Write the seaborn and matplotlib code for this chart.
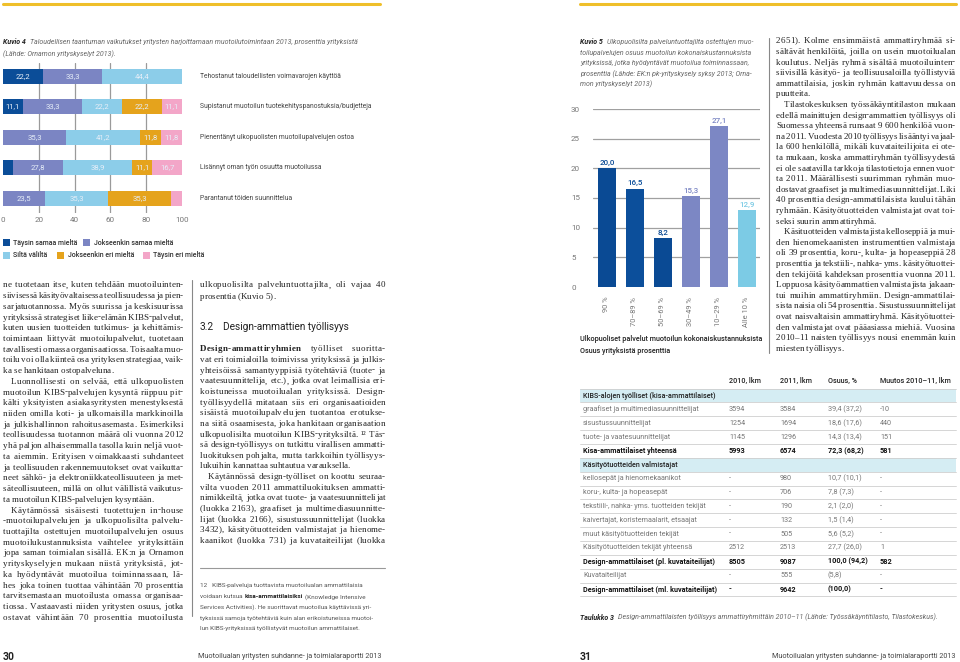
import matplotlib
matplotlib.use("Agg")
import matplotlib.pyplot as plt
from matplotlib.patches import Rectangle
from matplotlib.lines import Line2D
import seaborn as sns
import pandas as pd
import numpy as np

# ---------------- DATA ----------------
k4_categories = [
    "Tehostanut taloudellisten voimavarojen käyttöä",
    "Supistanut muotoilun tuotekehityspanostuksia/budjetteja",
    "Pienentänyt ulkopuolisten muotoilupalvelujen ostoa",
    "Lisännyt oman työn osuutta muotoilussa",
    "Parantanut töiden suunnittelua",
]
k4_series = ["Täysin samaa mieltä", "Jokseenkin samaa mieltä", "Siltä väliltä",
             "Jokseenkin eri mieltä", "Täysin eri mieltä"]
k4_taysin_samaa = [22.2, 11.1, 0.0, 5.6, 0.0]
k4_jokseenkin_samaa = [33.3, 33.3, 35.3, 27.8, 23.5]
k4_silta_valilta = [44.4, 22.2, 41.2, 38.9, 35.3]
k4_jokseenkin_eri = [0.0, 22.2, 11.8, 11.1, 35.3]
k4_taysin_eri = [0.0, 11.1, 11.8, 16.7, 5.9]
k4_xticks = [0, 20, 40, 60, 80, 100]

k5_categories = ["90 %", "70–89 %", "50–69 %", "30–49 %", "10–29 %", "Alle 10 %"]
k5_values = [20.0, 16.5, 8.2, 15.3, 27.1, 12.9]
k5_yticks = [0, 5, 10, 15, 20, 25, 30]

t3_header = ["2010, lkm", "2011, lkm", "Osuus, %", "Muutos 2010–11, lkm"]
t3_labels = [
    "KIBS-alojen työlliset (kisa-ammattilaiset)",
    "graafiset ja multimediasuunnittelijat",
    "sisustussuunnittelijat",
    "tuote- ja vaatesuunnittelijat",
    "Kisa-ammattilaiset yhteensä",
    "Käsityötuotteiden valmistajat",
    "kellosepät ja hienomekaanikot",
    "koru-, kulta- ja hopeasepät",
    "tekstiili-, nahka- yms. tuotteiden tekijät",
    "kaivertajat, koristemaalarit, etsaajat",
    "muut käsityötuotteiden tekijät",
    "Käsityötuotteiden tekijät yhteensä",
    "Design-ammattilaiset (pl. kuvataiteilijat)",
    "Kuvataiteilijat",
    "Design-ammattilaiset (ml. kuvataiteilijat)",
]
t3_2010 = ["", "3594", "1254", "1145", "5993", "", "-", "-", "-", "-", "-", "2512", "8505", "-", "-"]
t3_2011 = ["", "3584", "1694", "1296", "6574", "", "980", "706", "190", "132", "505", "2513", "9087", "555", "9642"]
t3_osuus = ["", "39,4 (37,2)", "18,6 (17,6)", "14,3 (13,4)", "72,3 (68,2)", "", "10,7 (10,1)", "7,8 (7,3)",
            "2,1 (2,0)", "1,5 (1,4)", "5,6 (5,2)", "27,7 (26,0)", "100,0 (94,2)", "(5,8)", "(100,0)"]
t3_muutos = ["", "-10", "440", "151", "581", "", "-", "-", "-", "-", "-", "1", "582", "-", "-"]
t3_kind = ["section", "normal", "normal", "normal", "bold", "section", "normal", "normal", "normal",
           "normal", "normal", "normal", "bold", "normal", "bold"]

# body text; a leading "> " marks an indented line, a trailing "|" marks a paragraph end (not justified)
left_col1 = [
    "ne tuotetaan itse, kuten tehdään muotoiluinten-",
    "siivisessä käsityövaltaisessa teollisuudessa ja pien-",
    "sarjatuotannossa. Myös suurissa ja keskisuurissa",
    "yrityksissä strategiset liike-elämän KIBS-palvelut,",
    "kuten uusien tuotteiden tutkimus- ja kehittämis-",
    "toimintaan liittyvät muotoilupalvelut, tuotetaan",
    "tavallisesti omassa organisaatiossa. Toisaalta muo-",
    "toilu voi olla kiinteä osa yrityksen strategiaa, vaik-",
    "ka se hankitaan ostopalveluna.|",
    "> Luonnollisesti on selvää, että ulkopuolisten",
    "muotoilun KIBS-palvelujen kysyntä riippuu pit-",
    "kälti yksityisten asiakasyritysten menestyksestä",
    "niiden omilla koti- ja ulkomaisilla markkinoilla",
    "ja julkishallinnon rahoitusasemasta. Esimerkiksi",
    "teollisuudessa tuotannon määrä oli vuonna 2012",
    "yhä paljon alhaisemmalla tasolla kuin neljä vuot-",
    "ta aiemmin. Erityisen voimakkaasti suhdanteet",
    "ja teollisuuden rakennemuutokset ovat vaikutta-",
    "neet sähkö- ja elektroniikkateollisuuteen ja met-",
    "säteollisuuteen, millä on ollut välillistä vaikutus-",
    "ta muotoilun KIBS-palvelujen kysyntään.|",
    "> Käytännössä sisäisesti tuotettujen in-house",
    "-muotoilupalvelujen ja ulkopuolisilta palvelu-",
    "tuottajilta ostettujen muotoilupalvelujen osuus",
    "muotoilukustannuksista vaihtelee yrityksittäin",
    "jopa saman toimialan sisällä. EK:n ja Ornamon",
    "yrityskyselyjen mukaan niistä yrityksistä, jot-",
    "ka hyödyntävät muotoilua toiminnassaan, lä-",
    "hes joka toinen tuottaa vähintään 70 prosenttia",
    "tarvitsemastaan muotoilusta omassa organisaa-",
    "tiossa. Vastaavasti niiden yritysten osuus, jotka",
    "ostavat vähintään 70 prosenttia muotoilusta",
]
left_col2_top = [
    "ulkopuolisilta palveluntuottajilta, oli vajaa 40",
    "prosenttia (Kuvio 5).|",
]
left_col2_bold = "Design-ammattiryhmien"
left_col2 = [
    "työlliset suoritta-",
    "vat eri toimialoilla toimivissa yrityksissä ja julkis-",
    "yhteisöissä samantyyppisiä työtehtäviä (tuote- ja",
    "vaatesuunnittelija, etc.), jotka ovat leimallisia eri-",
    "koistuneissa muotoilualan yrityksissä. Design-",
    "työllisyydellä mitataan siis eri organisaatioiden",
    "sisäistä muotoilupalvelujen tuotantoa erotukse-",
    "na siitä osaamisesta, joka hankitaan organisaation",
    "ulkopuolisilta muotoilun KIBS-yrityksiltä. ¹² Täs-",
    "sä design-työllisyys on tutkittu virallisen ammatti-",
    "luokituksen pohjalta, mutta tarkkoihin työllisyys-",
    "lukuihin kannattaa suhtautua varauksella.|",
    "> Käytännössä design-työlliset on koottu seuraa-",
    "vilta vuoden 2011 ammattiluokituksen ammatti-",
    "nimikkeiltä, jotka ovat tuote- ja vaatesuunnittelijat",
    "(luokka 2163), graafiset ja multimediasuunnitte-",
    "lijat (luokka 2166), sisustussuunnittelijat (luokka",
    "3432), käsityötuotteiden valmistajat ja hienome-",
    "kaanikot (luokka 731) ja kuvataiteilijat (luokka",
]
right_col = [
    "2651). Kolme ensimmäistä ammattiryhmää si-",
    "sältävät henkilöitä, joilla on usein muotoilualan",
    "koulutus. Neljäs ryhmä sisältää muotoiluinten-",
    "siivisillä käsityö- ja teollisuusaloilla työllistyviä",
    "ammattilaisia, joskin ryhmän kattavuudessa on",
    "puutteita.|",
    "> Tilastokeskuksen työssäkäyntitilaston mukaan",
    "edellä mainittujen design-ammattien työllisyys oli",
    "Suomessa yhteensä runsaat 9 600 henkilöä vuon-",
    "na 2011. Vuodesta 2010 työllisyys lisääntyi vajaal-",
    "la 600 henkilöllä, mikäli kuvataiteilijoita ei ote-",
    "ta mukaan, koska ammattiryhmän työllisyydestä",
    "ei ole saatavilla tarkkoja tilastotietoja ennen vuot-",
    "ta 2011. Määrällisesti suurimman ryhmän muo-",
    "dostavat graafiset ja multimediasuunnittelijat. Liki",
    "40 prosenttia design-ammattilaisista kuului tähän",
    "ryhmään. Käsityötuotteiden valmistajat ovat toi-",
    "seksi suurin ammattiryhmä.|",
    "> Käsituotteiden valmistajista kelloseppiä ja mui-",
    "den hienomekaanisten instrumenttien valmistaja",
    "oli 39 prosenttia, koru-, kulta- ja hopeaseppiä 28",
    "prosenttia ja tekstiili-, nahka- yms. käsityötuottei-",
    "den tekijöitä kahdeksan prosenttia vuonna 2011.",
    "Loppuosa käsityöammattien valmistajista jakaan-",
    "tui muihin ammattiryhmiin. Design-ammattilai-",
    "sista naisia oli 54 prosenttia. Sisustussuunnittelijat",
    "ovat naisvaltaisin ammattiryhmä. Käsityötuottei-",
    "den valmistajat ovat pääasiassa miehiä. Vuosina",
    "2010–11 naisten työllisyys nousi enemmän kuin",
    "miesten työllisyys.|",
]
footnote = [
    "12   KIBS-palveluja tuottavista muotoilualan ammattilaisia",
    "(Knowledge Intensive",
    "Services Activities). He suorittavat muotoilua käyttävissä yri-",
    "tyksissä samoja työtehtäviä kuin alan erikoistuneissa muotoi-",
    "lun KIBS-yrityksissä työllistyvät muotoilun ammattilaiset.",
]
k5_caption = [
    "Ulkopuolisilta palveluntuottajilta ostettujen muo-",
    "toilupalvelujen osuus muotoilun kokonaiskustannuksista",
    "yrityksissä, jotka hyödyntävät muotoilua toiminnassaan,",
    "prosenttia (Lähde: EK:n pk-yrityskysely syksy 2013; Orna-",
    "mon yrityskyselyt 2013)",
]
footer_text = "Muotoilualan yritysten suhdanne- ja toimialaraportti 2013"

# ---------------- STYLE ----------------
sns.set_theme(style="white")
SANS = ["Roboto", "DejaVu Sans"]
SERIF = ["Liberation Serif", "DejaVu Serif"]
plt.rcParams["font.family"] = SANS

C_DARK = "#0b4d98"
C_PURP = "#7b85c3"
C_LIGHT = "#8ccde9"
C_ORANGE = "#e5a31c"
C_PINK = "#f3a6c8"
k4_colors = [C_DARK, C_PURP, C_LIGHT, C_ORANGE, C_PINK]
k5_colors = ["#0a4a94", "#0c4f9b", "#0a4a94", "#7c87c4", "#7c87c4", "#7ccbe5"]
YELLOW = "#efbf2a"
TXT = "#222222"
GRAY = "#666666"

CAP = 5.05      # captions
LAB = 4.9       # chart-1 row labels
TB = 5.2        # table
BODY_FS = 6.5   # serif body

W, H = 960, 662
fig = plt.figure(figsize=(W / 100, H / 100), dpi=100)
renderer = fig.canvas.get_renderer()


def fx(x):
    return x / W


def fy(y):
    return 1 - y / H


def txt(x, y, s, **kw):
    kw.setdefault("va", "center")
    return fig.text(fx(x), fy(y), s, **kw)


def text_width(t):
    return t.get_window_extent(renderer=renderer).width


def hline(x0, x1, y, color, lw):
    fig.add_artist(Line2D([fx(x0), fx(x1)], [fy(y), fy(y)], color=color, lw=lw, transform=fig.transFigure))


def vline(x, y0, y1, color, lw):
    fig.add_artist(Line2D([fx(x), fx(x)], [fy(y0), fy(y1)], color=color, lw=lw, transform=fig.transFigure))


def rect(x, y, w, h, color):
    fig.add_artist(Rectangle((fx(x), fy(y + h)), w / W, h / H, color=color, transform=fig.transFigure, lw=0))


BODY = dict(fontsize=BODY_FS, family=SERIF, color=TXT)
_wcache = {}
_metric = {}


def _w(s, bold):
    key = (s, bold)
    if key not in _wcache:
        props = dict(BODY)
        if bold:
            props["fontweight"] = "bold"
        t = fig.text(0, 0, s, **props)
        _wcache[key] = text_width(t)
        t.remove()
    return _wcache[key]


def metric(c, bold):
    """advance width and left side bearing of one character"""
    key = (c, bold)
    if key not in _metric:
        adv = _w("x" + c + "x", bold) - _w("xx", bold)
        if c == " ":
            lsb = 0.0
        else:
            lsb = _w("x" + c, bold) - _w(c, bold) - (_w("xx", bold) - _w("x", bold))
        _metric[key] = (adv, lsb)
    return _metric[key]


def body_line(x0, x1, y, line, bold_prefix=None):
    indent = 0
    justify = True
    if line.startswith("> "):
        line = line[2:]
        indent = 8
    if line.endswith("|"):
        line = line[:-1]
        justify = False
    words = [(w, False) for w in line.split()]
    if bold_prefix:
        words.insert(0, (bold_prefix, True))
    sp = metric(" ", False)[0]
    nat = sum(metric(c, b)[0] for w, b in words for c in w) + sp * (len(words) - 1)
    nchars = sum(len(w) for w, b in words)
    inner = max(nchars - len(words), 1)
    ngaps = max(len(words) - 1, 1)
    target = x1 - x0 - indent
    track, gap = 0.0, sp
    if justify and len(words) > 1:
        extra = target - nat
        if extra >= 0:
            track = min(extra * 0.45 / inner, 0.55)
            gap = sp + (extra - track * inner) / ngaps
        else:
            shrink = min(-extra, 0.3 * sp * ngaps)
            gap = sp - shrink / ngaps
            track = -(-extra - shrink) / inner
    x = x0 + indent
    base = y + 2.4
    for w, b in words:
        for c in w:
            adv, lsb = metric(c, b)
            props = dict(BODY)
            if b:
                props["fontweight"] = "bold"
            fig.text(fx(x + lsb), fy(base), c, va="baseline", ha="left", **props)
            x += adv + track
        x += gap - track


# ---------------- decorations ----------------
hline(3, 380, 4, YELLOW, 2.2)
hline(580, 956, 4, YELLOW, 2.2)
vline(192, 280, 616, "#888888", 0.8)
vline(769, 38, 353, "#888888", 0.8)

# ---------------- Kuvio 4 ----------------
t = txt(3, 42, "Kuvio 4", fontsize=CAP, fontweight="bold", style="italic", color=TXT)
txt(3 + text_width(t) + 4, 42,
    "Taloudellisen taantuman vaikutukset yritysten harjoittamaan muotoilutoimintaan 2013, prosenttia yrityksistä",
    fontsize=CAP, style="italic", color=GRAY)
txt(3, 54, "(Lähde: Ornamon yrityskyselyt 2013).", fontsize=CAP, style="italic", color=GRAY)

ax1 = fig.add_axes([fx(3), fy(213), 179 / W, 150 / H])
series_vals = [k4_taysin_samaa, k4_jokseenkin_samaa, k4_silta_valilta, k4_jokseenkin_eri, k4_taysin_eri]
cum = np.cumsum(np.array(series_vals), axis=0)
for i in range(len(k4_series) - 1, -1, -1):
    df = pd.DataFrame({"cat": k4_categories, "val": cum[i]})
    sns.barplot(data=df, x="val", y="cat", color=k4_colors[i], orient="h", ax=ax1,
                width=0.49, saturation=1, linewidth=0, zorder=2)
for g in [20, 40, 60, 80]:
    ax1.axvline(g, color="#9a9a9a", lw=0.9, zorder=0)
ax1.set_xlim(0, 100)
ax1.set_ylim(4.49, -0.43)
ax1.set_xticks(k4_xticks)
ax1.set_xticklabels([str(v) for v in k4_xticks], fontsize=5.8, color="#777777")
ax1.tick_params(axis="x", length=0, pad=3)
ax1.set_yticks([])
ax1.set_xlabel("")
ax1.set_ylabel("")
for s in ax1.spines.values():
    s.set_visible(False)
ax1.patch.set_alpha(0)
for r, cat in enumerate(k4_categories):
    start = 0.0
    for i in range(len(k4_series)):
        v = series_vals[i][r]
        if v >= 10:
            ax1.text(start + v / 2, r, f"{v:.1f}".replace(".", ","), ha="center", va="center",
                     fontsize=5.6, color="#e6eef8", zorder=5)
        start += v
    ax1.text(110, r, cat, ha="left", va="center", fontsize=LAB, color="#444444", clip_on=False)

# legend
leg_rows = [[(0, 3, 13), (1, 83, 94)], [(2, 3, 13), (3, 57, 68), (4, 143, 153)]]
for yy, row in zip([243, 255], leg_rows):
    for idx, sx, tx in row:
        rect(sx, yy - 3.5, 7, 7, k4_colors[idx])
        txt(tx, yy, k4_series[idx], fontsize=5.0, fontweight="medium", color="#333333")

# ---------------- body text (left page) ----------------
for i, line in enumerate(left_col1):
    body_line(3, 183, 285 + i * 10.72, line)
for i, line in enumerate(left_col2_top):
    body_line(200, 385, 285 + i * 11.5, line)
txt(200, 327, "3.2", fontsize=7.3, color=TXT)
txt(223, 327, "Design-ammattien työllisyys", fontsize=7.3, color=TXT)
body_line(200, 385, 349, left_col2[0], bold_prefix=left_col2_bold)
for i, line in enumerate(left_col2[1:], start=1):
    body_line(200, 385, 349 + i * 10.64, line)

hline(200, 385, 568, "#999999", 0.8)
FN = dict(fontsize=4.6, color="#555555")
txt(200, 586, footnote[0], **FN)
t1 = txt(200, 597, "voidaan kutsua ", **FN)
t2 = txt(200 + text_width(t1) + 1, 597, "kisa-ammattilaisiksi", fontsize=4.6, color="#222222", fontweight="bold")
txt(200 + text_width(t1) + text_width(t2) + 3, 597, footnote[1], **FN)
for i, line in enumerate(footnote[2:], start=2):
    txt(200, 586 + i * 10.7, line, **FN)

txt(3, 657, "30", fontsize=7.5, fontweight="bold", color=TXT)
txt(198, 657, footer_text, fontsize=5.2, color="#444444")
txt(580, 657, "31", fontsize=7.5, fontweight="bold", color=TXT)
txt(955, 657, footer_text, fontsize=5.2, color="#444444", ha="right")

# ---------------- Kuvio 5 ----------------
t = txt(580, 42, "Kuvio 5", fontsize=CAP, fontweight="bold", style="italic", color=TXT)
txt(580 + text_width(t) + 4, 42, k5_caption[0], fontsize=CAP, style="italic", color=GRAY)
for i, line in enumerate(k5_caption[1:], start=1):
    txt(580, 42 + i * 10.6, line, fontsize=CAP, style="italic", color=GRAY)

ax2 = fig.add_axes([fx(593), fy(287), 167 / W, 178 / H])
df5 = pd.DataFrame({"cat": k5_categories, "val": k5_values})
sns.barplot(data=df5, x="cat", y="val", hue="cat", palette=k5_colors, legend=False, ax=ax2,
            width=0.64, saturation=1, linewidth=0, zorder=2)
for g in k5_yticks[1:]:
    ax2.axhline(g, color="#a0a0a0", lw=0.9, zorder=0)
ax2.set_ylim(0, 30)
ax2.set_xlim(-0.5, 5.47)
ax2.set_yticks(k5_yticks)
ax2.set_yticklabels([str(v) for v in k5_yticks], fontsize=5.8, color="#777777", ha="left")
ax2.tick_params(axis="y", length=0, pad=15.8)
ax2.set_xticks(range(len(k5_categories)))
ax2.set_xticklabels(k5_categories, rotation=90, fontsize=5.4, color="#777777", va="top")
ax2.tick_params(axis="x", length=0, pad=7)
ax2.set_xlabel("")
ax2.set_ylabel("")
for s in ax2.spines.values():
    s.set_visible(False)
ax2.patch.set_alpha(0)
for i, v in enumerate(k5_values):
    ax2.text(i, v + 0.45, f"{v:.1f}".replace(".", ","), ha="center", va="bottom",
             fontsize=5.8, color=k5_colors[i], fontweight="medium")
txt(580, 339, "Ulkopuoliset palvelut muotoilun kokonaiskustannuksista", fontsize=5.25,
    fontweight="medium", color="#222222")
txt(580, 351, "Osuus yrityksistä prosenttia", fontsize=5.25, fontweight="medium", color="#222222")

# right column text
for i, line in enumerate(right_col):
    body_line(776, 955, 41 + i * 10.6, line)

# ---------------- Taulukko 3 ----------------
col_x = [729, 780, 828, 880]
for x, h in zip(col_x, t3_header):
    txt(x, 381, h, fontsize=TB, color="#222222", fontweight="medium")
row_y0, row_step = 395.5, 13.86
for r, lab in enumerate(t3_labels):
    y = row_y0 + r * row_step
    kind = t3_kind[r]
    if kind == "section":
        rect(580, y - row_step / 2, 376, row_step, "#d5edf3")
    hline(580, 956, y + row_step / 2, "#cfcfcf", 0.6)
    if kind == "section":
        props = dict(fontsize=TB, color="#222222", fontweight="medium")
    elif kind == "bold":
        props = dict(fontsize=TB, color="#111111", fontweight="bold")
    else:
        props = dict(fontsize=TB, color="#777777")
    txt(583, y, lab, **props)
    for x, vals in zip(col_x, [t3_2010, t3_2011, t3_osuus, t3_muutos]):
        if vals[r]:
            txt(x, y, vals[r], **props)
hline(580, 956, row_y0 - row_step / 2, "#cfcfcf", 0.6)

t = txt(580, 617, "Taulukko 3", fontsize=CAP, fontweight="bold", style="italic", color=TXT)
txt(580 + text_width(t) + 4, 617,
    "Design-ammattilaisten työllisyys ammattiryhmittäin 2010–11 (Lähde: Työssäkäyntitilasto, Tilastokeskus).",
    fontsize=CAP, style="italic", color=GRAY)

fig.savefig("out.png", dpi=100)
